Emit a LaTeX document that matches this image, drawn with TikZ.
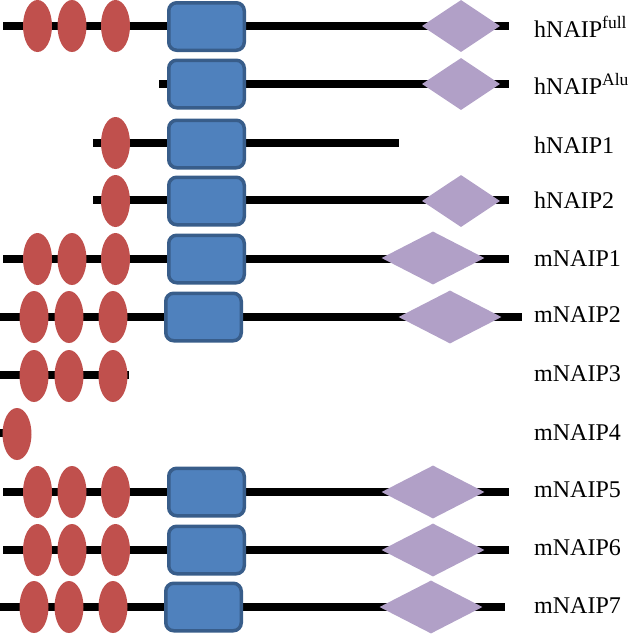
\documentclass[tikz,border=0pt]{standalone}
\usepackage{fontspec}
\setmainfont{Liberation Serif}
\usepackage{tikz}
\usetikzlibrary{shapes.geometric}
\definecolor{birred}{HTML}{C0504D}
\definecolor{nbdfill}{HTML}{4F81BD}
\definecolor{nbdline}{HTML}{385D8A}
\definecolor{lrrfill}{HTML}{B1A0C7}
\newcommand{\supname}[1]{\raisebox{8.5pt}{\fontsize{17.5}{20}\selectfont #1}}
\begin{document}
\begin{tikzpicture}[x=1pt,y=-1pt,
    backbone/.style={line width=8pt,black},
    bir/.style={ellipse,fill=birred,minimum width=29pt,minimum height=52pt,inner sep=0pt},
    nbd/.style={rectangle,rounded corners=8pt,fill=nbdfill,draw=nbdline,line width=3.5pt,minimum width=75.5pt,minimum height=47.5pt,inner sep=0pt},
    lrr/.style={diamond,fill=lrrfill,minimum width=78pt,minimum height=52pt,inner sep=0pt},
    lrrwide/.style={lrr,minimum width=103pt,minimum height=53pt},
    protname/.style={anchor=base west,font=\fontsize{24}{28}\selectfont,inner sep=0pt}]
            \useasboundingbox (0,0) rectangle (632,635);
            % hNAIP full
            \coordinate (a1) at (3,26); \coordinate (b1) at (509,26);
            \draw[backbone] (a1) -- (b1);
            \node[bir] (bir11) at (37.5,26) {}; \node[bir] (bir12) at (72,26) {}; \node[bir] (bir13) at (115.5,26) {};
            \node[nbd] (nbd1) at (206.5,26.5) {};
            \node[lrr] (lrr1) at (461,26) {};
            \node[protname] (n1) at (534,37) {hNAIP\supname{full}};
            % hNAIP Alu
            \coordinate (a2) at (159,84); \coordinate (b2) at (509,84);
            \draw[backbone] (a2) -- (b2);
            \node[nbd] (nbd2) at (206.5,84) {};
            \node[lrr] (lrr2) at (461,84) {};
            \node[protname] (n2) at (534,94) {hNAIP\supname{Alu}};
            % hNAIP1
            \coordinate (a3) at (93,143); \coordinate (b3) at (399,143);
            \draw[backbone] (a3) -- (b3);
            \node[bir] (bir31) at (115.5,143) {};
            \node[nbd] (nbd3) at (206.5,144) {};
            \node[protname] (n3) at (534,153) {hNAIP1};
            % hNAIP2
            \coordinate (a4) at (93,200); \coordinate (b4) at (509,200);
            \draw[backbone] (a4) -- (b4);
            \node[bir] (bir41) at (115.5,201) {};
            \node[nbd] (nbd4) at (206.5,201) {};
            \node[lrr] (lrr4) at (461,201) {};
            \node[protname] (n4) at (534,208) {hNAIP2};
            % mNAIP1
            \coordinate (a5) at (3,259); \coordinate (b5) at (509,259);
            \draw[backbone] (a5) -- (b5);
            \node[bir] (bir51) at (37.5,259) {}; \node[bir] (bir52) at (72,259) {}; \node[bir] (bir53) at (115.5,259) {};
            \node[nbd] (nbd5) at (206.5,259) {};
            \node[lrrwide] (lrr5) at (433,258) {};
            \node[protname] (n5) at (534,266) {mNAIP1};
            % mNAIP2
            \coordinate (a6) at (0,317); \coordinate (b6) at (522,317);
            \draw[backbone] (a6) -- (b6);
            \node[bir] (bir61) at (34,317) {}; \node[bir] (bir62) at (69,317) {}; \node[bir] (bir63) at (113,317) {};
            \node[nbd] (nbd6) at (203.5,317) {};
            \node[lrrwide] (lrr6) at (450,317) {};
            \node[protname] (n6) at (534,322) {mNAIP2};
            % mNAIP3
            \coordinate (a7) at (0,375); \coordinate (b7) at (129,375);
            \draw[backbone] (a7) -- (b7);
            \node[bir] (bir71) at (34,376) {}; \node[bir] (bir72) at (69,376) {}; \node[bir] (bir73) at (113,376) {};
            \node[protname] (n7) at (534,381) {mNAIP3};
            % mNAIP4
            \coordinate (a8) at (0,433); \coordinate (b8) at (6,433);
            \draw[backbone] (a8) -- (b8);
            \node[bir] (bir81) at (17,434) {};
            \node[protname] (n8) at (534,440) {mNAIP4};
            % mNAIP5
            \coordinate (a9) at (3,492); \coordinate (b9) at (509,492);
            \draw[backbone] (a9) -- (b9);
            \node[bir] (bir91) at (37.5,492) {}; \node[bir] (bir92) at (72,492) {}; \node[bir] (bir93) at (115.5,492) {};
            \node[nbd] (nbd9) at (206.5,492) {};
            \node[lrrwide] (lrr9) at (433,492) {};
            \node[protname] (n9) at (534,497) {mNAIP5};
            % mNAIP6
            \coordinate (a10) at (3,550); \coordinate (b10) at (509,550);
            \draw[backbone] (a10) -- (b10);
            \node[bir] (bir101) at (37.5,550) {}; \node[bir] (bir102) at (72,550) {}; \node[bir] (bir103) at (115.5,550) {};
            \node[nbd] (nbd10) at (206.5,550) {};
            \node[lrrwide] (lrr10) at (433,550) {};
            \node[protname] (n10) at (534,555) {mNAIP6};
            % mNAIP7
            \coordinate (a11) at (0,607); \coordinate (b11) at (505,607);
            \draw[backbone] (a11) -- (b11);
            \node[bir] (bir111) at (34,607) {}; \node[bir] (bir112) at (69,607) {}; \node[bir] (bir113) at (113,607) {};
            \node[nbd] (nbd11) at (203.5,607) {};
            \node[lrrwide] (lrr11) at (431,607) {};
            \node[protname] (n11) at (534,613) {mNAIP7};
        \end{tikzpicture}
\end{document}
